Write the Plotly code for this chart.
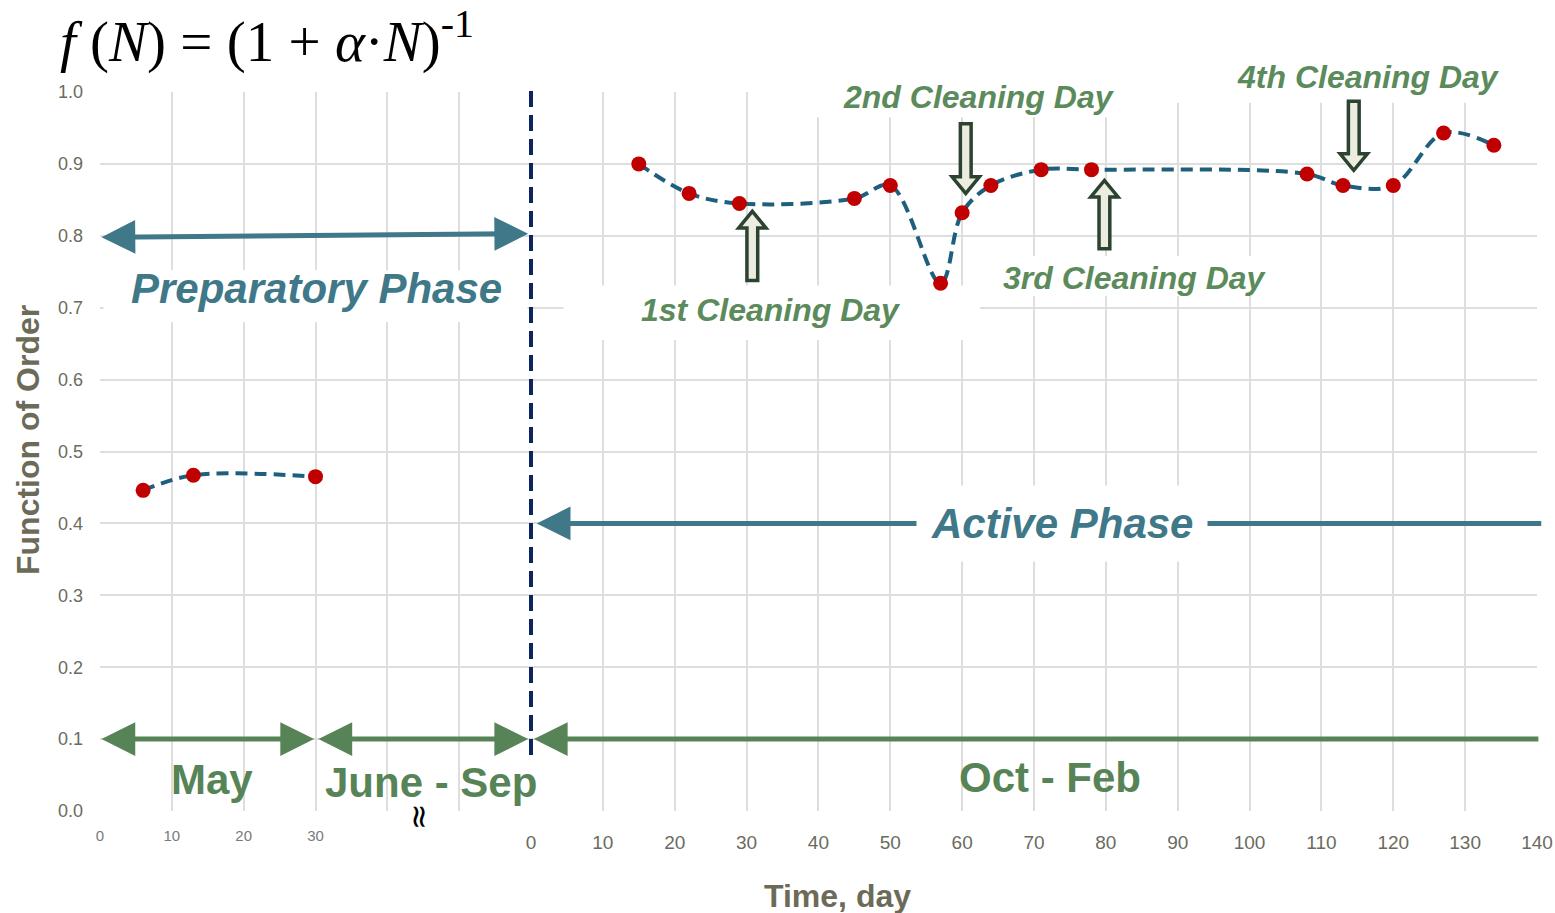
import plotly.graph_objects as go

# ---------------- data ----------------
may_days = [6, 13, 30]
may_values = [0.446, 0.467, 0.465]

active_days = [15, 22, 29, 45, 50, 57, 60, 64, 71, 78, 108, 113, 120, 127, 134]
active_values = [0.900, 0.859, 0.845, 0.852, 0.870, 0.734, 0.832, 0.870,
                 0.892, 0.892, 0.886, 0.870, 0.870, 0.943, 0.926]

y_ticks = [round(i * 0.1, 1) for i in range(11)]
left_ticks = [0, 10, 20, 30, 40, 50, 60]
left_labels = ["0", "10", "20", "30", "", "", ""]
right_ticks = list(range(0, 141, 10))
right_labels = [str(t) for t in right_ticks]

cleaning_labels = ["1st Cleaning Day", "2nd Cleaning Day", "3rd Cleaning Day", "4th Cleaning Day"]
cleaning_arrow_day = [30.8, 60.5, 79.8, 114.5]
cleaning_arrow_tail = [0.738, 0.956, 0.782, 0.987]
cleaning_arrow_tip = [0.834, 0.859, 0.877, 0.891]
cleaning_label_x = [33.4, 62.3, 84.1, 116.6]
cleaning_label_y = [0.697, 0.993, 0.742, 1.021]

# ---------------- styles ----------------
TEAL = "#3f7888"
GREEN = "#568457"
LABEL_GREEN = "#5b8a5b"
AXIS_TXT = "#6b6b58"
TICK_TXT = "#6b6b5e"
GRID = "#dedede"
LINE_COL = "#1d5f7c"
DOT_COL = "#c00000"
NAVY = "#0b2560"
SANS = "Liberation Sans, Arial, sans-serif"
SERIF = "Liberation Serif, Times New Roman, serif"

L, R, T, B = 100, 18, 92, 102
W, H = 1555, 913
plot_w = W - L - R
split = (531 - L) / plot_w

fig = go.Figure()

line_style = dict(color=LINE_COL, width=4, dash="12px,7px", shape="spline", smoothing=1.0)
marker_style = dict(color=DOT_COL, size=15, line=dict(width=0))

fig.add_trace(go.Scatter(x=may_days, y=may_values, xaxis="x", yaxis="y",
                         mode="lines+markers", line=line_style, marker=marker_style,
                         cliponaxis=False, hoverinfo="x+y"))
fig.add_trace(go.Scatter(x=active_days, y=active_values, xaxis="x2", yaxis="y",
                         mode="lines+markers", line=line_style, marker=marker_style,
                         cliponaxis=False, hoverinfo="x+y"))

shapes = []
# white patches behind labels (between grid and traces)
white_boxes = [
    dict(xref="paper", x0=0.001, x1=1.0, y0=0.004, y1=0.078),
    dict(xref="x", x0=0.5, x1=59.5, y0=0.68, y1=0.752),
    dict(xref="x2", x0=4.5, x1=62.5, y0=0.655, y1=0.731),
    dict(xref="x2", x0=33.2, x1=83.3, y0=0.965, y1=1.002),
    dict(xref="x2", x0=83.3, x1=140.5, y0=0.985, y1=1.002),
    dict(xref="x2", x0=64.4, x1=103.0, y0=0.716, y1=0.772),
]
for b in white_boxes:
    shapes.append(dict(type="rect", yref="y", line=dict(width=0), fillcolor="white",
                       layer="between", **b))

# phase separator (y axis spans the whole paper height, so paper y == data y)
shapes.append(dict(type="line", xref="paper", yref="paper", x0=split, x1=split,
                   y0=0.078, y1=1.004,
                   line=dict(color=NAVY, width=4, dash="16px,8px"), layer="above"))

# block arrows for cleaning days
sw, hw, hl = 0.75, 1.9, 0.023
for xc, yt, yp in zip(cleaning_arrow_day, cleaning_arrow_tail, cleaning_arrow_tip):
    d = 1 if yp > yt else -1
    yn = yp - d * hl
    path = (f"M{xc-sw},{yt} L{xc-sw},{yn} L{xc-hw},{yn} L{xc},{yp} "
            f"L{xc+hw},{yn} L{xc+sw},{yn} L{xc+sw},{yt} Z")
    shapes.append(dict(type="path", xref="x2", yref="y", path=path,
                       fillcolor="#ecece0", line=dict(color="#2c4330", width=3.5),
                       layer="above"))

ann = []


def arrow(xref, x_head, y_head, x_tail, y_tail, color, width, size, both):
    ann.append(dict(xref=xref, yref="y", axref=xref, ayref="y",
                    x=x_head, y=y_head, ax=x_tail, ay=y_tail, text="",
                    showarrow=True, arrowhead=2, arrowsize=size, arrowwidth=width,
                    arrowcolor=color, startarrowhead=2, startarrowsize=size,
                    arrowside="end+start" if both else "end", standoff=0, startstandoff=0))


def label(xref, x, y, text, size, color, family=SANS, **kw):
    d = dict(xref=xref, yref="paper", x=x, y=y, text=text, showarrow=False,
             xanchor="center", yanchor="middle",
             font=dict(family=family, size=size, color=color))
    d.update(kw)
    ann.append(d)


# phase arrows
arrow("x", 59.6, 0.803, 0.0, 0.798, TEAL, 5, 1.35, True)
arrow("x2", 0.8, 0.40, 140.8, 0.40, TEAL, 5, 1.35, False)
# month arrows
arrow("x", 29.8, 0.10, 0.0, 0.10, GREEN, 5, 1.35, True)
arrow("x", 59.6, 0.10, 30.2, 0.10, GREEN, 5, 1.35, True)
arrow("x2", 0.4, 0.10, 140.4, 0.10, GREEN, 5, 1.35, False)

# phase texts
label("x", 30.2, 0.727, "<b><i>Preparatory Phase</i></b>", 42, TEAL)
label("x2", 73.9, 0.40, "<b><i>Active Phase</i></b>", 42, TEAL, bgcolor="white", borderpad=14)

# month texts
label("x", 15.6, 0.044, "<b>May</b>", 42, GREEN)
label("x", 46.1, 0.039, "<b>June - Sep</b>", 42, GREEN)
label("x2", 72.2, 0.046, "<b>Oct - Feb</b>", 42, GREEN)

# cleaning day texts
for txt, lx, ly in zip(cleaning_labels, cleaning_label_x, cleaning_label_y):
    label("x2", lx, ly, f"<b><i>{txt}</i></b>", 32, LABEL_GREEN)

# axis break mark
label("x", 44.6, -0.008, "≈", 32, "black", family="DejaVu Sans", textangle=90)

# axis titles
label("paper", (28 - L) / plot_w, 0.516, "<b>Function of Order</b>", 32, AXIS_TXT, textangle=-90)
label("paper", (837 - L) / plot_w, -0.118, "<b>Time, day</b>", 32, AXIS_TXT)

# formula title
label("paper", (58 - L) / plot_w, 1.076,
      "<i>f</i> (<i>N</i>) = (1 + <i>α</i>·<i>N</i>)<sup>-1</sup>", 57, "black",
      family=SERIF, xanchor="left")

fig.update_layout(
    template="none",
    width=W, height=H, autosize=False,
    margin=dict(l=L, r=R, t=T, b=B),
    plot_bgcolor="white", paper_bgcolor="white",
    showlegend=False,
    shapes=shapes, annotations=ann,
    xaxis=dict(domain=[0, split], range=[0, 60], tickmode="array",
               tickvals=left_ticks, ticktext=left_labels, automargin=False,
               showgrid=True, gridcolor=GRID, gridwidth=1.5, zeroline=False,
               showline=False, ticks="", ticklabelstandoff=14,
               tickfont=dict(family=SANS, size=15, color="#7a7a7a")),
    xaxis2=dict(domain=[split, 1], range=[0, 140], anchor="y", tickmode="array",
                tickvals=right_ticks, ticktext=right_labels, automargin=False,
                showgrid=True, gridcolor=GRID, gridwidth=1.5, zeroline=False,
                showline=False, ticks="", ticklabelstandoff=18,
                tickfont=dict(family=SANS, size=19, color=TICK_TXT)),
    yaxis=dict(range=[0, 1.0], tickmode="array", tickvals=y_ticks,
               ticktext=[f"{v:.1f}" for v in y_ticks], automargin=False,
               showgrid=True, gridcolor=GRID, gridwidth=1.5, zeroline=False,
               showline=False, ticks="", ticklabelstandoff=16,
               tickfont=dict(family=SANS, size=18, color=TICK_TXT)),
)

fig.write_html(
    "out.html",
    config={"displayModeBar": False, "responsive": False},
    post_script=("document.body.style.margin='0px';"
                 "document.body.style.overflow='hidden';"
                 "document.documentElement.style.overflow='hidden';"),
)
